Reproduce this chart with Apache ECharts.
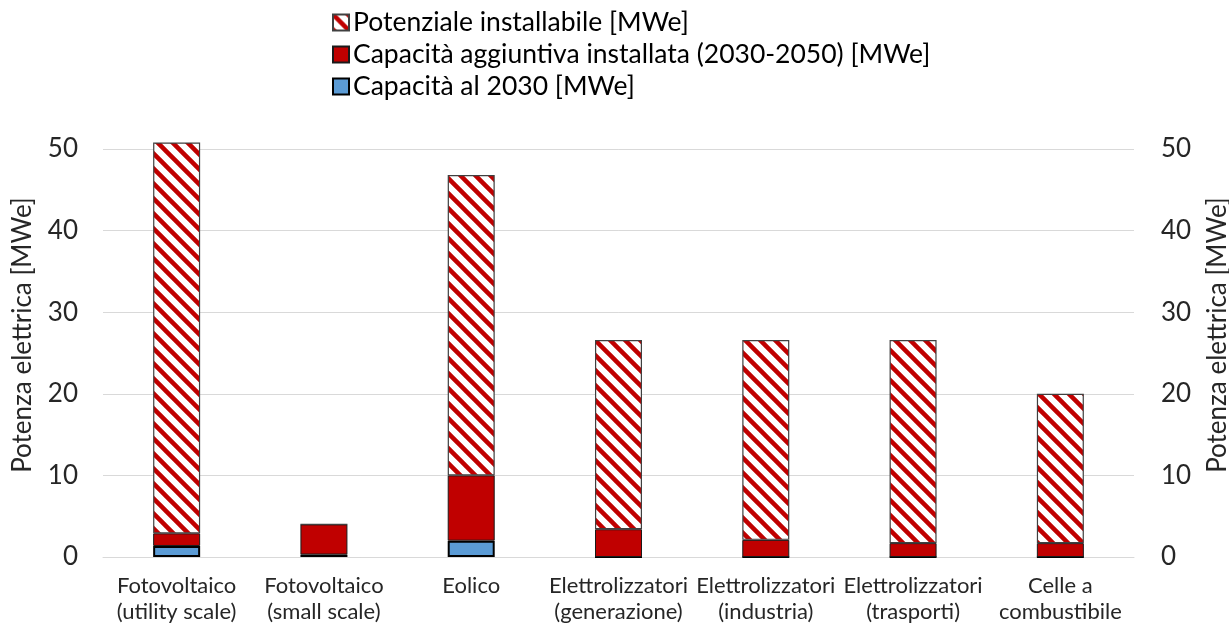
<!DOCTYPE html>
<html>
<head>
<meta charset="utf-8">
<script src="https://cdn.jsdelivr.net/npm/echarts@6/dist/echarts.min.js"></script>
<style>html,body{margin:0;padding:0;background:#fff;}#c{width:1229px;height:626px;}</style>
</head>
<body>
<div id="c"></div>
<script>
// Data
var categories = [
  'Fotovoltaico\n(utility scale)',
  'Fotovoltaico\n(small scale)',
  'Eolico',
  'Elettrolizzatori\n(generazione)',
  'Elettrolizzatori\n(industria)',
  'Elettrolizzatori\n(trasporti)',
  'Celle a\ncombustibile'
];
var capacita2030 = [1.35, 0.3, 2.0, 0, 0, 0, 0];
var capacitaAggiuntiva = [1.55, 3.7, 8.0, 3.4, 2.1, 1.7, 1.7];
var potenzialeResiduo = [47.9, 0, 36.8, 23.2, 24.5, 24.9, 18.3];
var yTicks = [0, 10, 20, 30, 40, 50];
var seriesNames = ['Potenziale installabile [MWe]', 'Capacità aggiuntiva installata (2030-2050) [MWe]', 'Capacità al 2030 [MWe]'];

function hatch() {
  var s = 15;
  var c = document.createElement('canvas');
  c.width = s; c.height = s;
  var ctx = c.getContext('2d');
  ctx.fillStyle = '#ffffff';
  ctx.fillRect(0, 0, s, s);
  ctx.strokeStyle = '#c00000';
  ctx.lineWidth = 4.5;
  ctx.beginPath();
  ctx.moveTo(-s, 0); ctx.lineTo(s, 2 * s);
  ctx.moveTo(0, 0); ctx.lineTo(s, s);
  ctx.moveTo(0, -s); ctx.lineTo(2 * s, s);
  ctx.moveTo(-s, -s); ctx.lineTo(s, s);
  ctx.stroke();
  return c;
}

var font = 'Lato, "Open Sans", sans-serif';
var chart = echarts.init(document.getElementById('c'), null, {renderer: 'canvas'});
var yAxisBase = {
  type: 'value', min: 0, max: 50, interval: 10,
  splitLine: {show: true, lineStyle: {color: '#d9d9d9', width: 1}},
  axisLine: {show: false}, axisTick: {show: false},
  nameLocation: 'middle', nameRotate: 90
};
function tickFmt(v) { return yTicks.indexOf(v) >= 0 ? String(v) : ''; }
chart.setOption({
  animation: false,
  textStyle: {fontFamily: font},
  grid: {left: 103, right: 95, top: 149, bottom: 69, containLabel: false, outerBoundsMode: 'none'},
  legend: {
    orient: 'vertical', left: 327, top: 4, itemWidth: 16, itemHeight: 16, itemGap: 5,
    data: seriesNames,
    textStyle: {fontFamily: font, fontSize: 26.5, color: '#000', padding: [0, 0, 0, -1]},
    icon: 'rect'
  },
  xAxis: {
    type: 'category', data: categories,
    axisLine: {lineStyle: {color: '#d9d9d9', width: 1}},
    axisTick: {show: false},
    axisLabel: {interval: 0, fontFamily: font, fontSize: 22, color: '#262626', lineHeight: 26, margin: 16}
  },
  yAxis: [
    Object.assign({}, yAxisBase, {
      position: 'left', name: 'Potenza elettrica [MWe]', nameGap: 67,
      nameTextStyle: {fontFamily: font, fontSize: 26, color: '#262626', padding: [0, 0, 0, 36]},
      axisLabel: {fontFamily: font, fontSize: 26, color: '#262626', margin: 25, formatter: tickFmt}
    }),
    Object.assign({}, yAxisBase, {
      position: 'right', name: 'Potenza elettrica [MWe]', nameGap: 71,
      nameTextStyle: {fontFamily: font, fontSize: 26, color: '#262626', padding: [0, 0, 0, 36]},
      axisLabel: {fontFamily: font, fontSize: 26, color: '#262626', margin: 27, formatter: tickFmt}
    })
  ],
  series: [
    {
      name: seriesNames[2], type: 'bar', stack: 'a', barWidth: 47, data: capacita2030, clip: false,
      itemStyle: {color: '#5b9bd5', borderColor: '#000', borderWidth: 2}
    },
    {
      name: seriesNames[1], type: 'bar', stack: 'a', barWidth: 47, data: capacitaAggiuntiva, clip: false,
      itemStyle: {color: '#c00000', borderColor: '#1a1a1a', borderWidth: 1}
    },
    {
      name: seriesNames[0], type: 'bar', stack: 'a', barWidth: 47, data: potenzialeResiduo, clip: false,
      itemStyle: {color: {image: hatch(), repeat: 'repeat'}, borderColor: '#404040', borderWidth: 1.2}
    }
  ]
});
</script>
</body>
</html>
